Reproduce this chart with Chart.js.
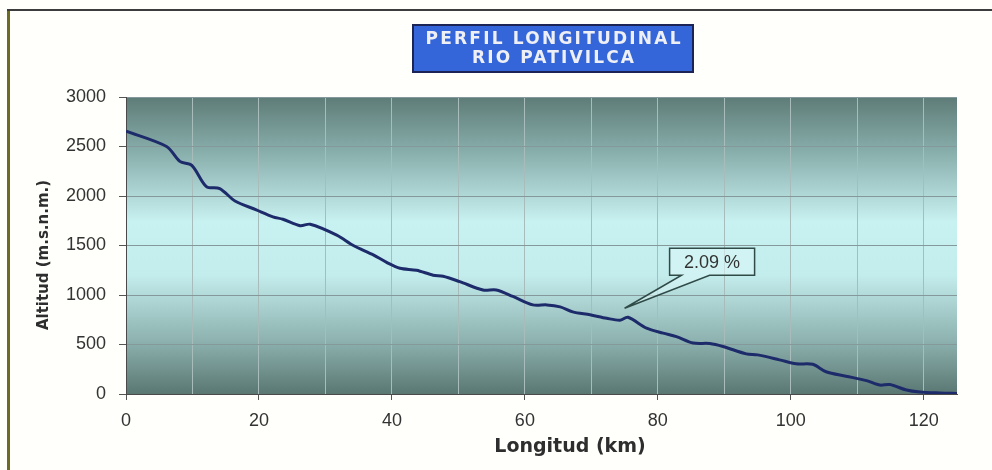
<!DOCTYPE html>
<html>
<head>
<meta charset="utf-8">
<title>Perfil longitudinal - Río Pativilca</title>
<script src="https://cdn.jsdelivr.net/npm/chart.js@4.4.1/dist/chart.umd.min.js"></script>
<style>
  html, body { margin: 0; padding: 0; background: #ffffff; }
  #wrap { width: 992px; height: 470px; position: relative; }
</style>
</head>
<body>
<div id="wrap"><canvas id="perfil" width="992" height="470"></canvas></div>
<script>
// River profile: distance along the channel (km) and bed elevation (m.s.n.m.)
const distanceKm = [0, 6.1, 8.1, 9.9, 12.1, 14.1, 16.4, 19.6, 22.1, 23.6, 26.2, 27.7, 31.7, 34.2, 37.2, 39.2,
  41.2, 43.7, 46.2, 47.7, 50.2, 53.7, 55.7, 58.2, 61.2, 63.3, 65.3, 67.2, 69.8, 72.3, 74.3, 75.5,
  78.3, 80.8, 82.8, 85.3, 87.8, 89.8, 93.3, 95.0, 98.3, 100.8, 103.3, 105.3, 108.3, 111.4, 113.4,
  114.9, 117.4, 119.4, 122.4, 125];
const altitude = [2655, 2500, 2350, 2310, 2095, 2075, 1950, 1860, 1790, 1765, 1700, 1715, 1605, 1500, 1405, 1330,
  1270, 1250, 1200, 1190, 1135, 1050, 1050, 985, 900, 900, 880, 830, 800, 765, 745, 775,
  665, 615, 580, 515, 510, 480, 405, 395, 345, 305, 300, 225, 180, 135, 90,
  95, 40, 20, 10, 5];

// Average slope callout and where its pointer lands (km, m.s.n.m.)
const slopeLabel = '2.09 %';
const slopePoint = [75, 866];

const titleLines = ['PERFIL LONGITUDINAL', 'RIO PATIVILCA'];
const xTitle = 'Longitud (km)';
const yTitle = 'Altitud (m.s.n.m.)';

const points = distanceKm.map((d, i) => ({ x: d, y: altitude[i] }));

const decor = {
  id: 'decor',
  beforeDraw(chart) {
    const { ctx, chartArea: a } = chart;
    ctx.save();
    // sheet background and frame
    ctx.fillStyle = '#fffffb';
    ctx.fillRect(0, 0, chart.width, chart.height);
    ctx.fillStyle = '#6b6b22';
    ctx.fillRect(7, 9, 3, chart.height - 9);
    ctx.fillStyle = '#3c3c3c';
    ctx.fillRect(7, 9, chart.width - 7, 2);
    // plot area shading
    const g = ctx.createLinearGradient(0, a.top, 0, a.bottom);
    g.addColorStop(0, '#5e7c77');
    g.addColorStop(0.18, '#87adaa');
    g.addColorStop(0.42, '#c8f1f1');
    g.addColorStop(0.6, '#c3ecec');
    g.addColorStop(0.82, '#8db2af');
    g.addColorStop(1, '#5a7772');
    ctx.fillStyle = g;
    ctx.fillRect(a.left, a.top, a.right - a.left, a.bottom - a.top);
    ctx.restore();
  },
  afterDraw(chart) {
    const { ctx } = chart;
    const xs = chart.scales.x, ys = chart.scales.y;
    ctx.save();

    // title box
    const bx = 413, by = 25, bw = 280, bh = 47;
    ctx.fillStyle = '#3465d9';
    ctx.fillRect(bx, by, bw, bh);
    ctx.strokeStyle = '#1c2456';
    ctx.lineWidth = 2;
    ctx.strokeRect(bx, by, bw, bh);
    ctx.fillStyle = '#eef0f6';
    ctx.textBaseline = 'middle';
    ctx.textAlign = 'left';
    ctx.font = 'bold 17px "DejaVu Sans"';
    const widths = [255, 162];
    const lineY = [by + 15, by + 34];
    titleLines.forEach((t, i) => {
      ctx.letterSpacing = '0px';
      const w = ctx.measureText(t).width;
      const sp = Math.max(0, (widths[i] - w) / (t.length - 1));
      ctx.letterSpacing = sp + 'px';
      ctx.fillText(t, bx + bw / 2 - widths[i] / 2, lineY[i]);
    });
    ctx.letterSpacing = '0px';

    // axis titles
    ctx.fillStyle = '#2e2e2e';
    ctx.textAlign = 'center';
    ctx.font = 'bold 19px "DejaVu Sans"';
    ctx.fillText(xTitle, 570, 447);
    ctx.save();
    ctx.translate(44, 255);
    ctx.rotate(-Math.PI / 2);
    ctx.font = 'bold 15px "DejaVu Sans"';
    ctx.fillText(yTitle, 0, 0);
    ctx.restore();

    // slope callout
    const tx = xs.getPixelForValue(slopePoint[0]);
    const ty = ys.getPixelForValue(slopePoint[1]);
    const l = tx + 45, t = ty - 60, w = 85, h = 27;
    ctx.beginPath();
    ctx.moveTo(l, t);
    ctx.lineTo(l + w, t);
    ctx.lineTo(l + w, t + h);
    ctx.lineTo(tx + 85, t + h);
    ctx.lineTo(tx, ty);
    ctx.lineTo(tx + 57, t + h);
    ctx.lineTo(l, t + h);
    ctx.closePath();
    ctx.fillStyle = 'rgba(220,247,247,0.55)';
    ctx.fill();
    ctx.strokeStyle = '#2f4a47';
    ctx.lineWidth = 1.5;
    ctx.stroke();
    ctx.fillStyle = '#333333';
    ctx.font = '18px "Liberation Sans"';
    ctx.textAlign = 'center';
    ctx.fillText(slopeLabel, l + w / 2, t + h / 2 + 1);
    ctx.restore();
  }
};

new Chart(document.getElementById('perfil'), {
  type: 'line',
  data: {
    datasets: [{
      data: points,
      borderColor: '#1d2b6b',
      borderWidth: 3,
      pointRadius: 0,
      tension: 0.3,
      fill: false
    }]
  },
  options: {
    responsive: false,
    animation: false,
    devicePixelRatio: 1,
    layout: { padding: { top: 97, right: 35, bottom: 0, left: 0 } },
    plugins: { legend: { display: false }, tooltip: { enabled: false }, title: { display: false } },
    scales: {
      x: {
        type: 'linear',
        min: 0,
        max: 125,
        afterFit(s) { s.height = 76; },
        border: { color: '#4a4a4a', width: 1 },
        grid: {
          color: '#a9bcbc',
          lineWidth: 1,
          tickLength: 6,
          tickColor: c => (c.tick && c.tick.value % 20 === 0) ? '#555555' : 'rgba(0,0,0,0)'
        },
        ticks: {
          stepSize: 10,
          includeBounds: false,
          autoSkip: false,
          maxRotation: 0,
          padding: 10,
          color: '#333333',
          font: { family: 'Liberation Sans', size: 18 },
          callback: v => (v % 20 === 0 ? String(v) : '')
        }
      },
      y: {
        min: 0,
        max: 3000,
        afterFit(s) { s.width = 126; },
        border: { color: '#4a4a4a', width: 1 },
        grid: { color: '#86999a', lineWidth: 1, tickLength: 7, tickColor: '#555555' },
        ticks: {
          stepSize: 500,
          padding: 13,
          color: '#333333',
          font: { family: 'Liberation Sans', size: 18 },
          callback: v => String(v)
        }
      }
    }
  },
  plugins: [decor]
});
</script>
</body>
</html>
